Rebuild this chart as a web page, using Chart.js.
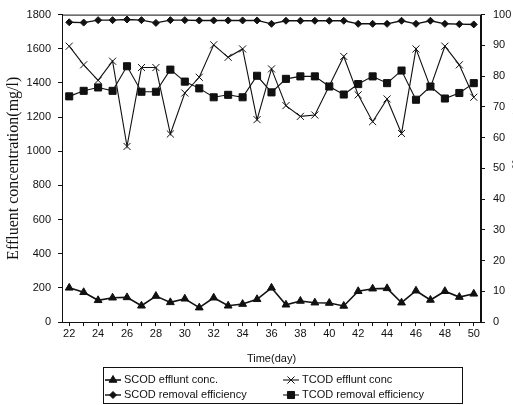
<!DOCTYPE html>
<html>
<head>
<meta charset="utf-8">
<title>SCOD / TCOD effluent and removal efficiency</title>
<script src="https://cdn.jsdelivr.net/npm/chart.js@4.4.0/dist/chart.umd.min.js"></script>
<style>
  html, body { margin: 0; padding: 0; background: #fff; overflow: hidden; }
  #wrap { width: 513px; height: 405px; }
</style>
</head>
<body>
<div id="wrap"><canvas id="codChart" width="513" height="405"></canvas></div>
<script>
// Time axis (day)
const days = [22, 23, 24, 25, 26, 27, 28, 29, 30, 31, 32, 33, 34, 35, 36,
  37, 38, 39, 40, 41, 42, 43, 44, 45, 46, 47, 48, 49, 50];

// Effluent concentration, mg/l (left axis)
const scodEffluent = [200, 174, 127, 142, 144, 95, 152, 115, 136, 84, 142, 95, 105, 133, 200,
  101, 123, 113, 111, 94, 180, 195, 197, 113, 183, 129, 180, 146, 165];
const tcodEffluent = [1615, 1506, 1415, 1527, 1028, 1490, 1490, 1101, 1341, 1433, 1623, 1550, 1599, 1185, 1482,
  1267, 1204, 1212, 1384, 1555, 1330, 1173, 1306, 1104, 1599, 1374, 1615, 1506, 1316];

// Removal efficiency, % (right axis)
const scodRemoval = [97.5, 97.4, 98.2, 98.2, 98.4, 98.2, 97.3, 98.2, 98.2, 98.1, 98.1, 98.1, 98.1, 98.1, 97.0,
  98.0, 98.0, 98.0, 98.0, 98.0, 97.0, 97.0, 97.0, 98.0, 97.0, 98.0, 97.0, 96.9, 96.8];
const tcodRemoval = [73.4, 75.2, 76.3, 75.2, 83.2, 74.9, 74.9, 82.1, 78.2, 76.0, 73.1, 73.9, 73.1, 80.1, 74.7,
  79.1, 79.9, 79.9, 76.6, 74.0, 77.4, 79.9, 77.7, 81.8, 72.3, 76.6, 72.7, 74.5, 77.7];

const seriesNames = ['SCOD efflunt conc.', 'TCOD efflunt conc', 'SCOD removal efficiency', 'TCOD removal efficiency'];

const ink = '#111';
const sans = 'Liberation Sans';
const serif = 'Liberation Serif';

function series(label, data, axis, style, radius, width) {
  return {
    label: label,
    data: data,
    yAxisID: axis,
    borderColor: ink,
    backgroundColor: ink,
    borderWidth: width,
    pointStyle: style,
    pointRadius: radius,
    pointBorderWidth: 1,
    pointBackgroundColor: ink,
    pointBorderColor: ink,
    tension: 0,
    fill: false
  };
}

// frame, right axis title (cut off at the page edge) and the boxed legend
const extras = {
  id: 'extras',
  afterDraw(chart) {
    const ctx = chart.ctx;
    const area = chart.chartArea;
    ctx.save();
    ctx.strokeStyle = ink;
    ctx.lineWidth = 1;
    ctx.strokeRect(area.left + 0.5, area.top + 0.5, area.right - area.left - 1, area.bottom - area.top);

    // right axis title, reading bottom to top, mostly past the edge
    ctx.save();
    ctx.translate(523, 165);
    ctx.rotate(-Math.PI / 2);
    ctx.fillStyle = ink;
    ctx.font = '15px "' + serif + '"';
    ctx.textAlign = 'center';
    ctx.textBaseline = 'alphabetic';
    ctx.fillText('Removal efficiency(%)', 0, 0);
    ctx.restore();

    // legend box
    ctx.strokeRect(103.5, 367.5, 359, 36);
    const cols = [105, 283];
    const rows = [380, 395];
    ctx.font = '11px "' + sans + '"';
    ctx.textBaseline = 'middle';
    ctx.textAlign = 'left';
    chart.data.datasets.forEach((ds, i) => {
      const x = cols[i % 2];
      const y = rows[Math.floor(i / 2)];
      ctx.strokeStyle = ink;
      ctx.fillStyle = ink;
      ctx.lineWidth = ds.borderWidth;
      ctx.beginPath();
      ctx.moveTo(x, y);
      ctx.lineTo(x + 16, y);
      ctx.stroke();
      ctx.lineWidth = 1;
      Chart.helpers.drawPoint(ctx, {
        pointStyle: ds.pointStyle,
        radius: ds.pointRadius,
        rotation: 0,
        borderWidth: 1
      }, x + 8, y);
      ctx.fillText(ds.label, x + 19, y);
    });
    ctx.restore();
  }
};

const ctx = document.getElementById('codChart').getContext('2d');
const chart = new Chart(ctx, {
  type: 'line',
  data: {
    labels: days,
    datasets: [
      series(seriesNames[0], scodEffluent, 'yConc', 'triangle', 4.5, 1.6),
      series(seriesNames[1], tcodEffluent, 'yConc', 'crossRot', 5, 1.1),
      series(seriesNames[2], scodRemoval, 'yEff', 'rectRot', 3.5, 1.4),
      series(seriesNames[3], tcodRemoval, 'yEff', 'rect', 5, 1.1)
    ]
  },
  options: {
    responsive: false,
    devicePixelRatio: 1,
    animation: false,
    layout: { padding: { top: 14, left: 0, right: 0, bottom: 39.4 } },
    plugins: {
      legend: { display: false },
      tooltip: { enabled: false }
    },
    scales: {
      x: {
        type: 'category',
        offset: true,
        grid: { display: true, drawOnChartArea: false, drawTicks: true, tickLength: 4, color: ink },
        border: { display: true, color: ink, width: 1 },
        ticks: {
          autoSkip: false,
          maxRotation: 0,
          padding: 1,
          color: ink,
          font: { family: sans, size: 11 },
          callback: (v, i) => (i % 2 === 0 ? days[i] : '')
        },
        title: {
          display: true,
          text: 'Time(day)',
          color: ink,
          font: { family: sans, size: 11 },
          padding: { top: 0, bottom: 0 }
        },
        afterFit: (scale) => { scale.height = 43.6; }
      },
      yConc: {
        type: 'linear',
        position: 'left',
        min: 0,
        max: 1800,
        grid: { display: true, drawOnChartArea: false, drawTicks: true, tickLength: 4, color: ink },
        border: { display: true, color: ink, width: 1 },
        ticks: {
          stepSize: 200,
          padding: 7,
          color: ink,
          font: { family: sans, size: 11 },
          callback: (v) => String(v)
        },
        title: {
          display: true,
          text: 'Effluent concentration(mg/l)',
          color: ink,
          font: { family: serif, size: 16 },
          padding: { top: 4, bottom: 0 }
        },
        afterFit: (scale) => { scale.width = 62; }
      },
      yEff: {
        type: 'linear',
        position: 'right',
        min: 0,
        max: 100,
        grid: { display: true, drawOnChartArea: false, drawTicks: true, tickLength: 4, color: ink },
        border: { display: true, color: ink, width: 1 },
        ticks: { stepSize: 10, padding: 8, color: ink, font: { family: sans, size: 11 } },
        afterFit: (scale) => { scale.width = 32; }
      }
    }
  },
  plugins: [extras]
});
</script>
</body>
</html>
